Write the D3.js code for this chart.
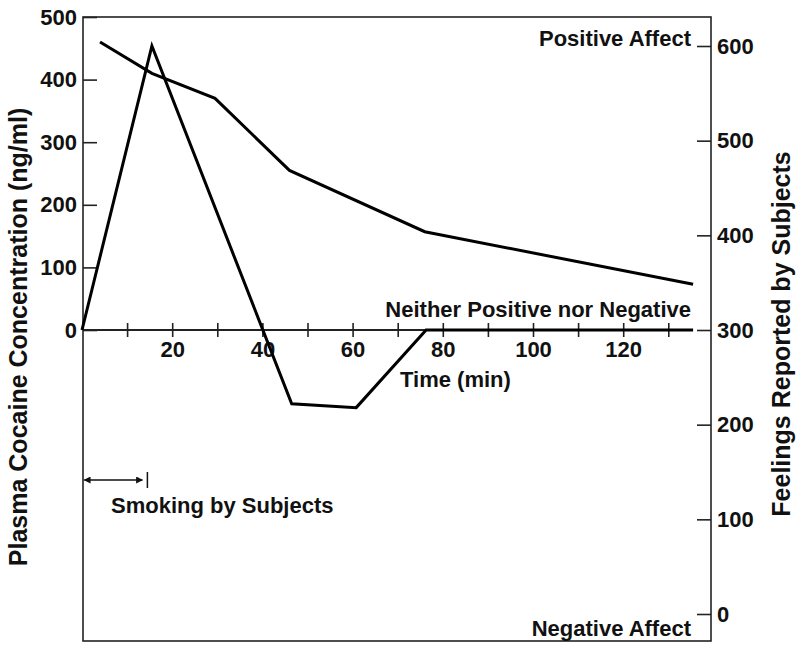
<!DOCTYPE html>
<html>
<head>
<meta charset="utf-8">
<script src="https://cdn.jsdelivr.net/npm/d3@7"></script>
<style>
  html, body { margin: 0; padding: 0; background: #fff; }
  svg { display: block; }
  text { font-family: "Liberation Sans", Arial, Helvetica, sans-serif; font-weight: bold; fill: #111; }
</style>
</head>
<body>
<script>
// ---- data ----
const plasmaTime   = [4, 15.5, 29.5, 46, 76, 135.5];
const plasmaValue  = [460, 410, 370, 255, 157, 73];
const feelingTime  = [0, 15.5, 46.5, 60.8, 76.3, 135.5];
const feelingValue = [300, 600, 222, 218, 300, 300];
const xTicks       = [10, 20, 30, 40, 50, 60, 70, 80, 90, 100, 110, 120, 130];
const xLabelTicks  = [20, 40, 60, 80, 100, 120];
const leftTicks    = [0, 100, 200, 300, 400, 500];
const rightTicks   = [0, 100, 200, 300, 400, 500, 600];
const smokingSpan  = [0.5, 14.5];

// ---- layout ----
const W = 800, H = 648;
const frame = { left: 83, right: 711, top: 17, bottom: 641 };
const zeroY = 330;

const svg = d3.select("body").append("svg").attr("width", W).attr("height", H);

const x  = d3.scaleLinear().domain([0, 130]).range([82, 668.3]);
const yL = d3.scaleLinear().domain([0, 500]).range([zeroY, 17]);
const yR = d3.scaleLinear().domain([300, 600]).range([zeroY, 46]);

// frame
svg.append("rect")
  .attr("x", frame.left).attr("y", frame.top)
  .attr("width", frame.right - frame.left).attr("height", frame.bottom - frame.top)
  .attr("fill", "none").attr("stroke", "#222").attr("stroke-width", 1.6);

// left axis
const gL = svg.append("g").attr("transform", `translate(${frame.left},0)`)
  .call(d3.axisLeft(yL).tickValues(leftTicks).tickSizeInner(-14).tickSizeOuter(0).tickPadding(6));
gL.select(".domain").remove();
gL.selectAll(".tick line").attr("stroke", "#222").attr("stroke-width", 1.6);
gL.selectAll(".tick text").attr("font-size", 22).attr("fill", "#111")
  .style("font-family", '"Liberation Sans", Arial, sans-serif').style("font-weight", "bold");

// right axis
const gR = svg.append("g").attr("transform", `translate(${frame.right},0)`)
  .call(d3.axisRight(yR).tickValues(rightTicks).tickSizeInner(-14).tickSizeOuter(0).tickPadding(6));
gR.select(".domain").remove();
gR.selectAll(".tick line").attr("stroke", "#222").attr("stroke-width", 1.6);
gR.selectAll(".tick text").attr("font-size", 22).attr("fill", "#111")
  .style("font-family", '"Liberation Sans", Arial, sans-serif').style("font-weight", "bold");

// x axis
svg.append("line")
  .attr("x1", frame.left).attr("x2", x(135))
  .attr("y1", zeroY).attr("y2", zeroY)
  .attr("stroke", "#222").attr("stroke-width", 1.8);
const gX = svg.append("g").attr("transform", `translate(0,${zeroY})`)
  .call(d3.axisBottom(x).tickValues(xTicks).tickSizeInner(7).tickSizeOuter(0)
    .tickFormat(d => xLabelTicks.includes(d) ? String(d) : ""));
gX.select(".domain").remove();
gX.selectAll(".tick line").attr("y1", -7).attr("y2", 7).attr("stroke", "#222").attr("stroke-width", 1.6);
gX.selectAll(".tick text").attr("dy", null).attr("y", 27).attr("font-size", 22).attr("fill", "#111")
  .style("font-family", '"Liberation Sans", Arial, sans-serif').style("font-weight", "bold");

// data lines
const plasma = plasmaTime.map((t, i) => [t, plasmaValue[i]]);
const feeling = feelingTime.map((t, i) => [t, feelingValue[i]]);
svg.append("path").datum(feeling)
  .attr("d", d3.line().x(d => x(d[0])).y(d => yR(d[1])))
  .attr("fill", "none").attr("stroke", "#000").attr("stroke-width", 3).attr("stroke-linejoin", "miter");
svg.append("path").datum(plasma)
  .attr("d", d3.line().x(d => x(d[0])).y(d => yL(d[1])))
  .attr("fill", "none").attr("stroke", "#000").attr("stroke-width", 3).attr("stroke-linejoin", "miter");

// annotations
svg.append("text").attr("x", 691).attr("y", 46).attr("text-anchor", "end").attr("font-size", 22).text("Positive Affect");
svg.append("text").attr("x", 691).attr("y", 317).attr("text-anchor", "end").attr("font-size", 22).text("Neither Positive nor Negative");
svg.append("text").attr("x", 691).attr("y", 636).attr("text-anchor", "end").attr("font-size", 22).text("Negative Affect");
svg.append("text").attr("x", 400).attr("y", 387).attr("font-size", 22).text("Time (min)");
svg.append("text").attr("x", 111).attr("y", 513).attr("font-size", 22).text("Smoking by Subjects");

// smoking arrow
const defs = svg.append("defs");
defs.append("marker").attr("id", "ah").attr("viewBox", "0 0 10 10")
  .attr("refX", 9).attr("refY", 5).attr("markerWidth", 9).attr("markerHeight", 7)
  .attr("markerUnits", "userSpaceOnUse").attr("orient", "auto-start-reverse")
  .append("path").attr("d", "M0,0 L10,5 L0,10 z").attr("fill", "#111");
const arrowY = 480;
svg.append("line")
  .attr("x1", x(smokingSpan[0])).attr("x2", x(smokingSpan[1]) - 5)
  .attr("y1", arrowY).attr("y2", arrowY)
  .attr("stroke", "#111").attr("stroke-width", 1.5)
  .attr("marker-start", "url(#ah)").attr("marker-end", "url(#ah)");
svg.append("line")
  .attr("x1", x(smokingSpan[1])).attr("x2", x(smokingSpan[1]))
  .attr("y1", arrowY - 8).attr("y2", arrowY + 8)
  .attr("stroke", "#111").attr("stroke-width", 1.5);

// axis titles
svg.append("text")
  .attr("transform", `translate(27,337) rotate(-90)`)
  .attr("text-anchor", "middle").attr("font-size", 25)
  .text("Plasma Cocaine Concentration (ng/ml)");
svg.append("text")
  .attr("transform", `translate(790,334) rotate(-90)`)
  .attr("text-anchor", "middle").attr("font-size", 25)
  .text("Feelings Reported by Subjects");
</script>
</body>
</html>
